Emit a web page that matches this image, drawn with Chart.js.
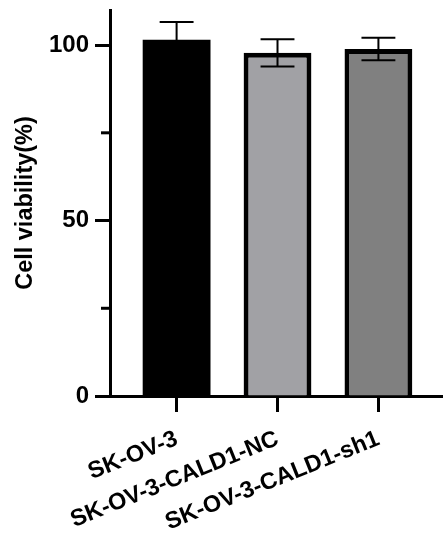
<!DOCTYPE html>
<html>
<head>
<meta charset="utf-8">
<script src="https://cdn.jsdelivr.net/npm/chart.js@4/dist/chart.umd.min.js"></script>
<style>
  html, body { margin: 0; padding: 0; background: #fff; }
  #wrap { width: 443px; height: 541px; }
</style>
</head>
<body>
<div id="wrap"><canvas id="c" width="443" height="541"></canvas></div>
<script>
const categories = ['SK-OV-3', 'SK-OV-3-CALD1-NC', 'SK-OV-3-CALD1-sh1'];
const means = [101.5, 97.8, 98.9];
const sds = [5.1, 3.9, 3.2];
const barColors = ['#000000', '#A1A1A5', '#808080'];
const majorTicks = [0, 50, 100];
const minorTicks = [25, 75];
const yTitle = 'Cell viability(%)';

const FONT = '"Liberation Sans", Arial, Helvetica, sans-serif';

const errorBarPlugin = {
  id: 'errorBars',
  afterDatasetsDraw(chart) {
    const ctx = chart.ctx;
    const yScale = chart.scales.y;
    const meta = chart.getDatasetMeta(0);
    ctx.save();
    ctx.strokeStyle = '#000';
    ctx.lineWidth = 2;
    meta.data.forEach((bar, i) => {
      const x = bar.x;
      const yt = yScale.getPixelForValue(means[i] + sds[i]);
      const yb = yScale.getPixelForValue(means[i] - sds[i]);
      const hw = bar.width / 4;
      ctx.beginPath();
      ctx.moveTo(x, yt); ctx.lineTo(x, yb);
      ctx.moveTo(x - hw, yt); ctx.lineTo(x + hw, yt);
      ctx.moveTo(x - hw, yb); ctx.lineTo(x + hw, yb);
      ctx.stroke();
    });
    ctx.restore();
  }
};

const minorTickPlugin = {
  id: 'minorTicks',
  afterDraw(chart) {
    const ctx = chart.ctx;
    const yScale = chart.scales.y;
    ctx.save();
    ctx.strokeStyle = '#000';
    ctx.lineWidth = 3;
    minorTicks.forEach(v => {
      const y = yScale.getPixelForValue(v);
      ctx.beginPath();
      ctx.moveTo(yScale.right - 9, y);
      ctx.lineTo(yScale.right, y);
      ctx.stroke();
    });
    ctx.restore();
  }
};

new Chart(document.getElementById('c'), {
  type: 'bar',
  data: {
    datasets: [{
      data: categories.map((c, i) => ({ x: i, y: means[i] })),
      backgroundColor: barColors,
      borderColor: '#000',
      borderWidth: [0, 5, 5],
      barPercentage: 0.84,
      categoryPercentage: 0.8
    }]
  },
  options: {
    responsive: false,
    animation: false,
    layout: { padding: { top: 10, left: 0, right: 0, bottom: 0 } },
    plugins: { legend: { display: false }, tooltip: { enabled: false } },
    scales: {
      x: {
        type: 'linear',
        offset: false,
        min: -0.66,
        max: 2.64,
        afterBuildTicks: s => { s.ticks = categories.map((c, i) => ({ value: i })); },
        afterFit: s => { s.height = 145; s.paddingLeft = 0; s.paddingRight = 0; },
        border: { display: true, color: '#000', width: 3 },
        grid: { offset: false, drawOnChartArea: false, drawTicks: true, tickLength: 16, tickWidth: 3, tickColor: '#000' },
        ticks: {
          autoSkip: false,
          minRotation: 22,
          maxRotation: 22,
          padding: 13,
          color: '#000',
          font: { family: FONT, size: 23.5, weight: 'bold' },
          callback: v => categories[v]
        }
      },
      y: {
        min: 0,
        max: 110,
        afterBuildTicks: s => { s.ticks = majorTicks.map(v => ({ value: v })); },
        afterFit: s => { s.width = 110; s.paddingTop = 0; s.paddingBottom = 0; },
        border: { display: true, color: '#000', width: 3 },
        grid: { drawOnChartArea: false, drawTicks: true, tickLength: 15, tickWidth: 3, tickColor: '#000' },
        ticks: {
          padding: 6,
          color: '#000',
          font: { family: FONT, size: 24, weight: 'bold' }
        },
        title: {
          display: true,
          text: yTitle,
          color: '#000',
          padding: { top: 11, bottom: 0 },
          font: { family: FONT, size: 23.5, weight: 'bold' }
        }
      }
    }
  },
  plugins: [errorBarPlugin, minorTickPlugin]
});
</script>
</body>
</html>
